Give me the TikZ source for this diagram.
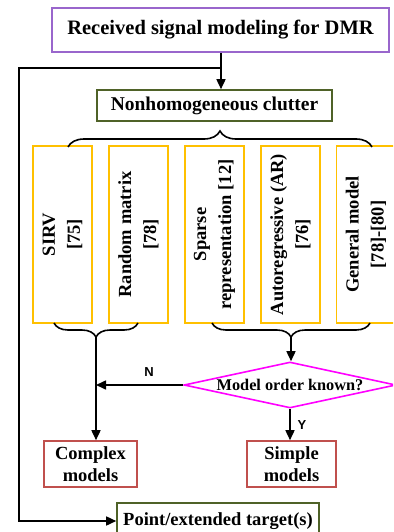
\documentclass[tikz,border=0pt]{standalone}
\usepackage{fontspec}
\setmainfont{Liberation Serif}
\newfontfamily\lsans{Liberation Sans}
\usetikzlibrary{shapes.geometric,decorations.pathreplacing,arrows.meta}
\definecolor{cpurple}{RGB}{153,102,204}
\definecolor{cgreen}{RGB}{79,98,40}
\definecolor{cyel}{RGB}{255,192,0}
\definecolor{cred}{RGB}{192,80,77}
\definecolor{cmag}{RGB}{255,0,255}
\begin{document}
\begin{tikzpicture}[x=1pt,y=-1pt,
  box/.style={draw, line width=1.6pt, inner sep=0pt, align=center},
  ybox/.style={draw=cyel, line width=1.8pt, rotate=90, minimum width=177pt, minimum height=59pt,
    align=center, inner sep=0pt, font=\bfseries\fontsize{18.5}{25}\selectfont},
  rbox/.style={box, draw=cred, minimum height=46pt, font=\bfseries\fontsize{18.5}{22}\selectfont},
  conn/.style={draw=black, line width=1.6pt},
  arr/.style={conn, -{Triangle[length=10pt,width=9pt]}},
  brc/.style={conn, decorate, decoration={brace, amplitude=#1}},
  lab/.style={font=\lsans\bfseries\fontsize{13}{15}\selectfont}]
\useasboundingbox (0,0) rectangle (393,532);
\clip (0,0) rectangle (393,532);
\fill[white] (0,0) rectangle (393,532);

\node[box, draw=cpurple, minimum width=337pt, minimum height=44pt,
  font=\bfseries\fontsize{20.5}{24}\selectfont] (title) at (220.5,30) {Received signal modeling for DMR};
\node[box, draw=cgreen, minimum width=235pt, minimum height=31pt,
  font=\bfseries\fontsize{19.5}{24}\selectfont] (clutter) at (214.5,105.5) {Nonhomogeneous clutter};

\node[ybox] (b1) at (62.5,234.5) {SIRV\\{}[75]};
\node[ybox] (b2) at (138.5,234.5) {Random matrix\\{}[78]};
\node[ybox] (b3) at (214.5,234.5) {Sparse\\representation [12]};
\node[ybox] (b4) at (290.5,234.5) {Autoregressive (AR)\\{}[76]};
\node[ybox] (b5) at (366,234.5) {General model\\{}[78]-[80]};

\node[diamond, draw=cmag, line width=1.6pt, aspect=4.6, inner sep=0pt, minimum width=212pt, minimum height=46pt,
  font=\bfseries\fontsize{16.3}{18}\selectfont] (dm) at (290,385) {Model order known?};

\node[rbox, minimum width=93pt] (complex) at (90.5,464) {Complex\\models};
\node[rbox, minimum width=89pt] (simple) at (291.5,464) {Simple\\models};
\node[box, draw=cgreen, minimum width=202pt, minimum height=36pt,
  font=\bfseries\fontsize{18.5}{22}\selectfont] (pt) at (218,521) {Point/extended target(s)};

% connectors
\coordinate (j1) at (221,68);
\coordinate (lc) at (19,68);
\draw[conn] (title.south -| j1) -- (j1);
\draw[arr] (j1) -- (j1 |- clutter.north);
\draw[arr] (j1) -- (lc) |- (pt.west);

\coordinate (tb1) at (68,147);
\coordinate (tb2) at (372,147);
\draw[brc=16pt] (tb1) -- (tb2);

\coordinate (bb1) at (138,323);
\coordinate (bb2) at (54,323);
\draw[brc=14pt] (bb1) -- (bb2);
\coordinate (bb3) at (370,323);
\coordinate (bb4) at (212,323);
\draw[brc=14pt] (bb3) -- (bb4);

\coordinate (t1) at (96,337);
\coordinate (t2) at (291,337);
\draw[arr] (t1) -- (t1 |- complex.north);
\draw[arr] (t2) -- (t2 |- dm.north);
\draw[arr] (dm.west) -- (dm.west -| t1);
\draw[arr] (dm.south) -- (dm.south |- simple.north);

\node[lab] (ln) at (149,372) {N};
\node[lab] (ly) at (302,425) {Y};
\end{tikzpicture}
\end{document}
